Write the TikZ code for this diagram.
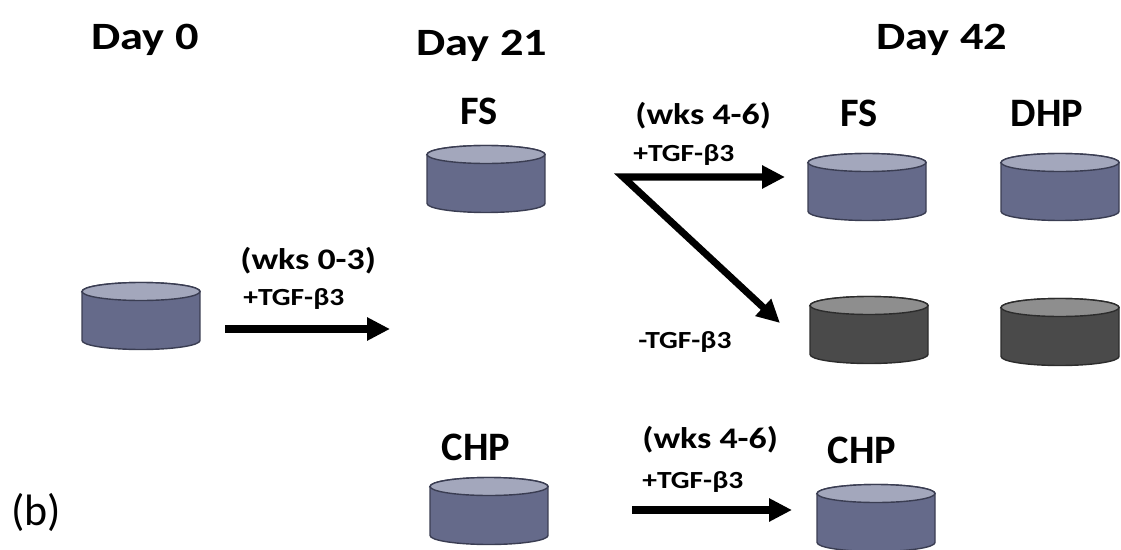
\documentclass[tikz,border=0pt]{standalone}
\usepackage{fontspec}
\setmainfont{Carlito}
\newfontfamily\widefont{Carlito}[FakeStretch=1.2]
\usetikzlibrary{arrows.meta}

\definecolor{discbody}{HTML}{656A8A}
\definecolor{disctop}{HTML}{A3A7BC}
\definecolor{discline}{HTML}{3A3D52}
\definecolor{darkbody}{HTML}{4A4A4A}
\definecolor{darktop}{HTML}{8E8E8E}
\definecolor{darkline}{HTML}{2C2C2C}

\begin{document}
\begin{tikzpicture}[x=0.02cm, y=-0.02cm,
        % flat culture disc; #1 = disc or dark
        pics/disc/.style={code={
            \begin{scope}[x=1cm, y=1cm]
                \coordinate (-centre) at (0,0);
                \filldraw[fill=#1body, draw=#1line, line width=0.8pt]
                    (-1.18,0.49) -- (-1.18,-0.49)
                    arc[start angle=180, end angle=360, x radius=1.18cm, y radius=0.18cm]
                    -- (1.18,0.49)
                    arc[start angle=0, end angle=180, x radius=1.18cm, y radius=0.18cm] -- cycle;
                \filldraw[fill=#1top, draw=#1line, line width=0.8pt]
                    (0,0.49) ellipse[x radius=1.18cm, y radius=0.18cm];
            \end{scope}
        }},
        day/.style={font=\widefont\bfseries\fontsize{22}{26}\selectfont, anchor=base, inner sep=0pt},
        tag/.style={font=\bfseries\fontsize{23}{27}\selectfont, anchor=base, inner sep=0pt},
        weeks/.style={font=\widefont\bfseries\fontsize{17}{20}\selectfont, anchor=base west, inner sep=0pt},
        tgf/.style={font=\widefont\bfseries\fontsize{14}{17}\selectfont, anchor=base west, inner sep=0pt},
        flow/.style={line width=4pt, line join=miter, -{Triangle[length=0.46cm, width=0.44cm]}}
    ]
        \useasboundingbox (0,0) rectangle (1121,550);

        % time points
        \node[day] (day0) at (145,50) {Day 0};
        \node[day] (day21) at (482,56) {Day 21};
        \node[day] (day42) at (942,50) {Day 42};

        % Day 0
        \pic (disc0) at (141,316) {disc=disc};

        % Day 21
        \node[tag] (lbl_fs21) at (479,125) {FS};
        \pic (fs21) at (486,179) {disc=disc};
        \node[tag] (lbl_chp21) at (476,460) {CHP};
        \pic (chp21) at (489,511) {disc=disc};

        % Day 42
        \node[tag] (lbl_fs42) at (859,127) {FS};
        \node[tag] (lbl_dhp42) at (1047,127) {DHP};
        \pic (fs42) at (867,187) {disc=disc};
        \pic (dhp42) at (1060,187) {disc=disc};
        \pic (fs42n) at (869,330) {disc=dark};
        \pic (dhp42n) at (1060,332) {disc=dark};
        \node[tag] (lbl_chp42) at (862,463) {CHP};
        \pic (chp42) at (876,518) {disc=disc};

        % weeks 0-3
        \node[weeks] (wk03) at (240,270) {(wks 0-3)};
        \node[tgf] (tgf03) at (243,305) {+TGF-β3};
        \coordinate (a1s) at (225,329);
        \coordinate (a1e) at (390,329);
        \draw[flow] (a1s) -- (a1e);

        % weeks 4-6, split
        \node[weeks] (wk46) at (635,125) {(wks 4-6)};
        \node[tgf] (tgf46) at (633,162) {+TGF-β3};
        \node[tgf] (notgf) at (638,348) {-TGF-β3};
        \coordinate (split) at (623,177);
        \coordinate (toplus) at (785,177);
        \coordinate (tominus) at (780,323);
        \draw[flow, {Triangle[length=0.46cm, width=0.44cm]}-{Triangle[length=0.46cm, width=0.44cm]}]
            (toplus) -- (split) -- (tominus);

        % weeks 4-6, CHP
        \node[weeks] (wk46c) at (642,448) {(wks 4-6)};
        \node[tgf] (tgf46c) at (642,488) {+TGF-β3};
        \coordinate (a3s) at (632,510);
        \coordinate (a3e) at (792,510);
        \draw[flow] (a3s) -- (a3e);

        \node[font=\fontsize{25}{30}\selectfont, anchor=base, inner sep=0pt] (panel) at (36,525) {(b)};
    \end{tikzpicture}
\end{document}
